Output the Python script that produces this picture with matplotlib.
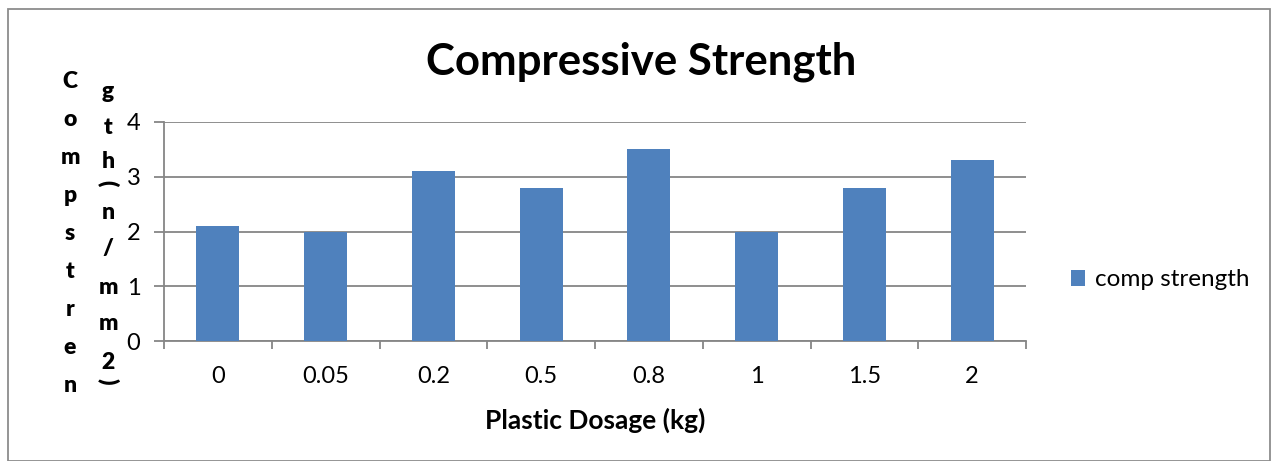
import matplotlib.pyplot as plt
from matplotlib.patches import Rectangle

# data
dosage = ['0', '0.05', '0.2', '0.5', '0.8', '1', '1.5', '2']
strength = [2.1, 2.0, 3.1, 2.8, 3.5, 2.0, 2.8, 3.3]

W, H = 1274, 461
plt.rcParams['font.family'] = ['Lato', 'DejaVu Sans']

fig = plt.figure(figsize=(W / 100, H / 100), dpi=100)
grey = '#868686'

# chart border
fig.patches.append(Rectangle((8 / W, 0), 1262 / W, 1 - 9 / H, transform=fig.transFigure,
                             fill=False, ec='#8c8c8c', lw=1.3))

ax = fig.add_axes([164 / W, 1 - 341 / H, 862 / W, 219 / H])
x = range(len(dosage))
ax.bar(x, strength, width=0.4, color='#4F81BD', label='comp strength', zorder=3)

ax.set_xlim(-0.5, len(dosage) - 0.5)
ax.set_ylim(0, 4)
ax.set_yticks([0, 1, 2, 3, 4])
ax.set_xticks(list(x))
ax.set_xticklabels(dosage)
ax.set_xticks([i - 0.5 for i in range(len(dosage) + 1)], minor=True)
ax.tick_params(axis='x', which='major', length=0, pad=18, labelsize=17)
ax.tick_params(axis='x', which='minor', length=6, width=1.3, color=grey)
ax.tick_params(axis='y', length=7, width=1.3, color=grey, labelsize=17, pad=10)
ax.grid(axis='y', color=grey, lw=1.3, zorder=0)
for s in ['top', 'right']:
    ax.spines[s].set_visible(False)
for s in ['left', 'bottom']:
    ax.spines[s].set_color(grey)
    ax.spines[s].set_linewidth(1.3)

ax.set_xlabel('Plastic Dosage (kg)', fontsize=19, fontweight='bold', labelpad=15)
fig.text(641 / W, 1 - 62 / H, 'Compressive Strength', fontsize=31.5, fontweight='bold',
         ha='center', va='center')

# stacked y label, as Excel wrapped it
col1 = 'Compstren'
for i, ch in enumerate(col1):
    fig.text(70 / W, 1 - (82 + 37.9 * i) / H, ch, fontsize=16.5, fontweight='heavy',
             ha='center', va='center')
col2 = [('g', 92, 0), ('t', 127, 0), ('h', 161, 0), ('(', 183, -90), ('n', 212, 0),
        ('/', 248, 0), ('m', 287, 0), ('m', 324, 0), ('2', 362, 0), (')', 381, -90)]
for ch, yy, rot in col2:
    fig.text(108 / W, 1 - yy / H, ch, fontsize=16.5, fontweight='heavy',
             ha='center', va='center', rotation=rot, rotation_mode='anchor')

ax.legend(loc='center left', bbox_to_anchor=(1049 / W, 1 - 280 / H),
          bbox_transform=fig.transFigure, frameon=False, fontsize=17.5,
          handlelength=0.6, handleheight=0.6, handletextpad=0.4)

fig.savefig('out.png', dpi=100)
